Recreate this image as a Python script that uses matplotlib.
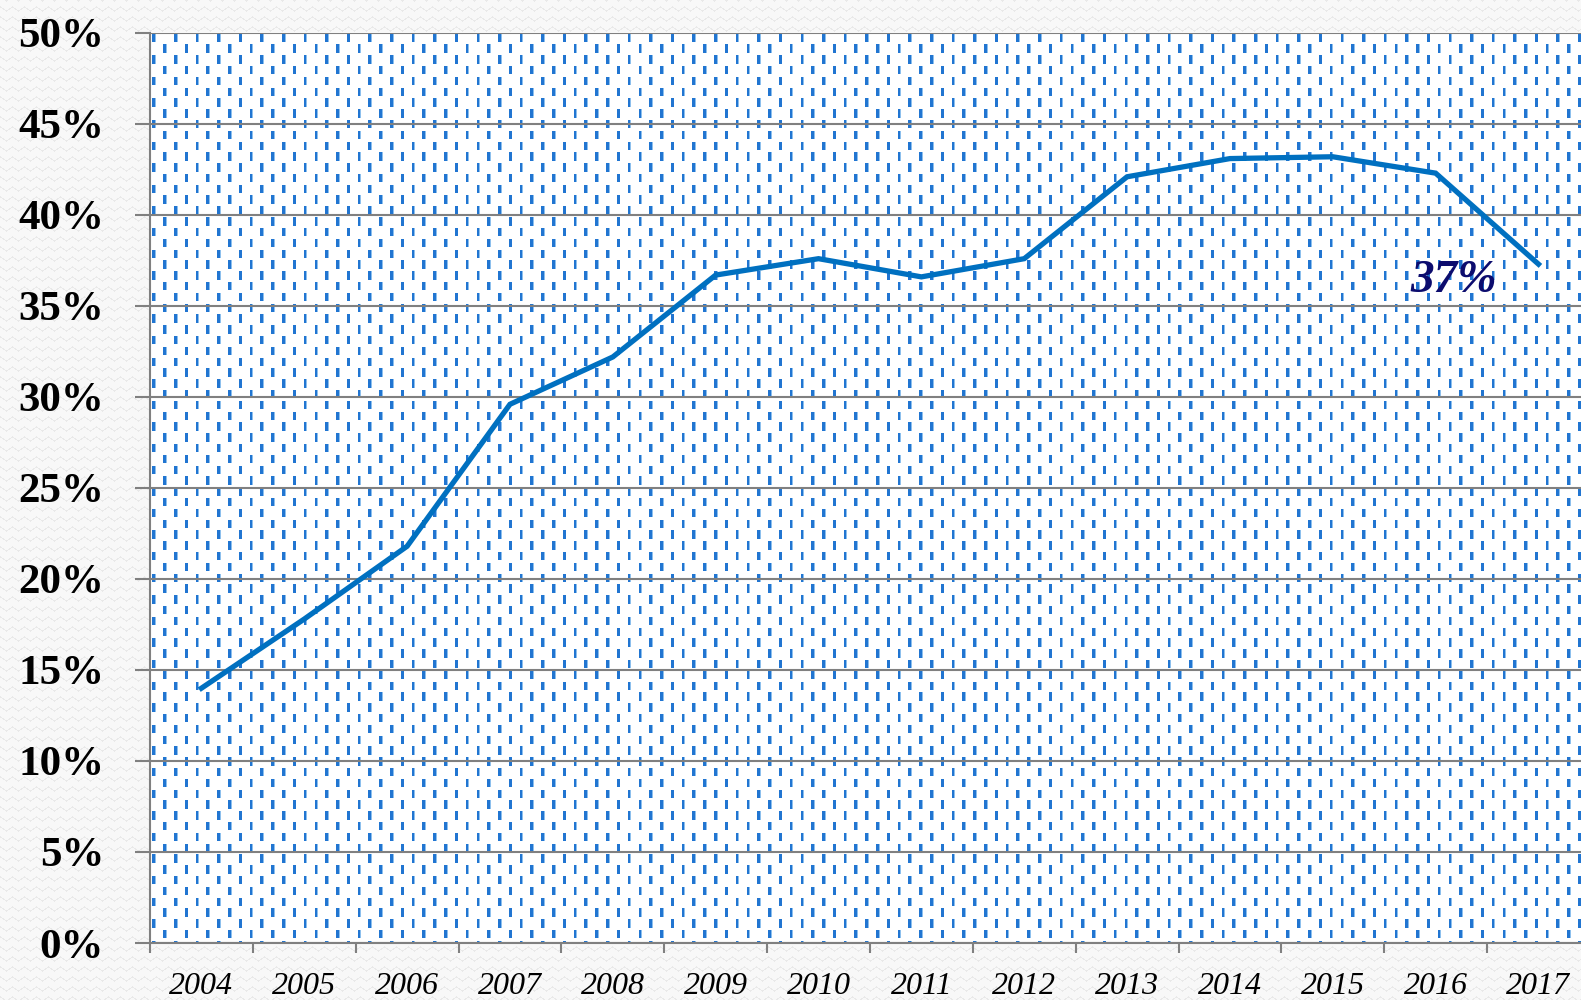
import numpy as np
import matplotlib
matplotlib.use("Agg")
import matplotlib.pyplot as plt

# data
years = ['2004', '2005', '2006', '2007', '2008', '2009', '2010',
         '2011', '2012', '2013', '2014', '2015', '2016', '2017']
share = [14.0, 17.8, 21.8, 29.6, 32.2, 36.7, 37.6,
         36.6, 37.6, 42.1, 43.1, 43.2, 42.3, 37.3]
yticks = [0, 5, 10, 15, 20, 25, 30, 35, 40, 45, 50]
last_label = '37%'

W, H, DPI = 1581, 1000, 100
fig = plt.figure(figsize=(W / DPI, H / DPI), dpi=DPI)

# axes box in pixels (right side runs past the figure edge like the original)
ax_l, ax_t, ax_b = 150, 33, 943
step = 102.85
ax_r = ax_l + step * len(years)
ax = fig.add_axes([ax_l / W, 1 - ax_b / H, (ax_r - ax_l) / W, (ax_b - ax_t) / H])
ax.set_facecolor('none')

# background: faint zigzag texture outside, blue dash pattern inside the plot
yy, xx = np.mgrid[0:H, 0:W]
tri = np.abs((xx / 12.0) % 1 - 0.5) * 8
wave = ((yy + tri) % 10) < 1.3
img = np.full((H, W, 3), 0.975)
img[wave] = 0.915
inside = (xx >= ax_l) & (yy >= ax_t) & (yy <= ax_b)
img[inside] = 1.0
col = np.floor((xx - ax_l - 2) / 10.8).astype(int)
cx = (xx - ax_l - 2) - col * 10.8
rowph = (yy - ax_t + (col % 2) * 10.8) % 21.6
dash = inside & (cx >= 0) & (cx < 2.6) & (rowph < 8.5) & (xx > ax_l + 1)
img[dash] = [0.13, 0.46, 0.82]
edge = inside & (cx >= 2.6) & (cx < 3.4) & (rowph < 8.5)
img[edge] = [0.55, 0.75, 0.93]
fig.figimage(img, xo=0, yo=0, origin='upper', zorder=-1)

x = np.arange(len(years))
ax.plot(x, share, color='#0070c0', lw=3.8, solid_joinstyle='miter', zorder=3)

ax.set_xlim(-0.5, len(years) - 0.5)
ax.set_ylim(0, 50)
ax.set_yticks(yticks)
ax.set_yticklabels([f'{v}%' for v in yticks])
ax.grid(axis='y', color='#808080', lw=1.5, zorder=2)
ax.set_axisbelow(False)

ax.set_xticks(x)
ax.set_xticklabels(years)
ax.set_xticks(np.arange(len(years) + 1) - 0.5, minor=True)
ax.tick_params(axis='x', which='major', length=0, pad=21)
ax.tick_params(axis='x', which='minor', length=7, width=1.5, color='#808080', direction='out')
ax.tick_params(axis='y', length=11, width=1.5, color='#808080', direction='out', pad=22)

for s in ['top', 'right']:
    ax.spines[s].set_visible(False)
for s in ['left', 'bottom']:
    ax.spines[s].set_color('#808080')
    ax.spines[s].set_linewidth(1.5)

for t in ax.get_yticklabels():
    t.set_fontfamily('Liberation Serif')
    t.set_fontweight('bold')
    t.set_fontsize(31)
for t in ax.get_xticklabels():
    t.set_fontfamily('Liberation Serif')
    t.set_fontstyle('italic')
    t.set_fontsize(23)

ax.text(len(years) - 1.82, share[-1] - 0.95, last_label, color='#0c0c6e',
        fontsize=34, fontweight='bold', fontstyle='italic',
        fontfamily='Liberation Serif', ha='center', va='center', zorder=4)

fig.savefig('out.png', dpi=DPI)
